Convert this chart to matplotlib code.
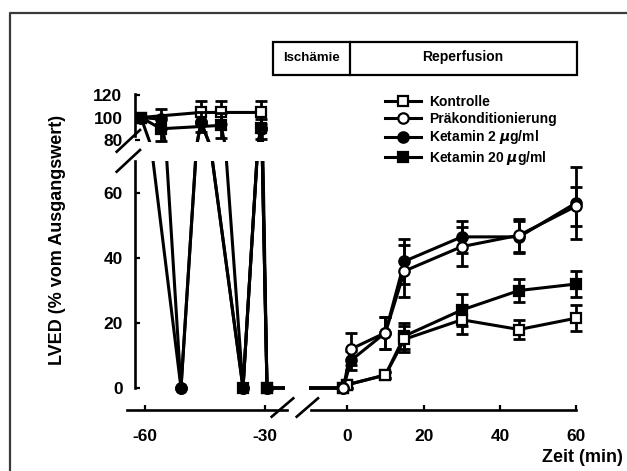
import matplotlib
matplotlib.use("Agg")
import matplotlib.pyplot as plt
from matplotlib.lines import Line2D
from matplotlib.patches import Rectangle

plt.rcParams['font.family'] = ['Liberation Sans', 'DejaVu Sans']
plt.rcParams['font.weight'] = 'bold'
plt.rcParams['axes.unicode_minus'] = False

# Zeitpunkte (min) und LVED-Werte (% vom Ausgangswert) je Gruppe
t_kon = [-61, -46, -41, -31, -29.5, -1, 0, 10, 15, 30, 45, 60]
v_kon = [100, 104.5, 104.5, 104.5, 0, 0, 1, 4, 15, 21, 18, 21.5]
e_kon = [0, 10, 10, 10, 0, 0, 1, 1, 4, 4.5, 3, 4]

t_pra = [-61, -51, -46, -35.5, -31, -29.5, -1, 1, 10, 15, 30, 45, 60]
v_pra = [100, 0, 96, 0, 91, 0, 0, 12, 17, 36, 43.5, 47, 56]
e_pra = [0, 0, 0, 0, 0, 0, 0, 5, 5, 8, 6, 5, 6]

t_k2 = [-61, -56, -51, -46, -35.5, -31, -29.5, -1, 1, 10, 15, 30, 45, 60]
v_k2 = [100, 98.5, 0, 96, 0, 90, 0, 0, 8.5, 17, 39, 46.5, 46.5, 57]
e_k2 = [0, 9, 0, 9, 0, 9, 0, 0, 3, 5, 7, 5, 5, 11]

t_k20 = [-61, -56, -41, -35.5, -31, -29.5, -1, 0, 10, 15, 30, 45, 60]
v_k20 = [100, 90, 93, 0, 91, 0, 0, 1, 4, 16, 24, 30, 32]
e_k20 = [0, 11, 11, 0, 0, 0, 0, 1, 1, 4, 5, 3.5, 4]

labels = ["Kontrolle", "Präkonditionierung", "Ketamin 2 $\\mu$g/ml", "Ketamin 20 $\\mu$g/ml"]

W, H = 627, 471
fig = plt.figure(figsize=(W / 100, H / 100), dpi=100)


def box(l, t, r, b):
    return [l / W, 1 - b / H, (r - l) / W, (b - t) / H]


def fx(x):
    return x / W


def fy(y):
    return 1 - y / H


ax_tl = fig.add_axes(box(135, 92.75, 285, 142.25))
ax_bl = fig.add_axes(box(135, 160.5, 285, 394.5))
ax_br = fig.add_axes(box(309, 160.5, 584, 394.5))

series = [
    ("kon", t_kon, v_kon, e_kon, "s", "white"),
    ("pra", t_pra, v_pra, e_pra, "o", "white"),
    ("k2", t_k2, v_k2, e_k2, "o", "black"),
    ("k20", t_k20, v_k20, e_k20, "s", "black"),
]
z_left = {"kon": 3, "pra": 2, "k2": 5, "k20": 4}
z_right = {"kon": 3, "pra": 5, "k2": 4, "k20": 2}

for ax, zo in [(ax_tl, z_left), (ax_bl, z_left), (ax_br, z_right)]:
    for key, t, v, e, m, fc in series:
        ax.plot(t, v, color="black", lw=2.2, marker=m, markersize=7.5,
                markerfacecolor=fc, markeredgecolor="black", markeredgewidth=1.6,
                zorder=zo[key])
        te = [a for a, b in zip(t, e) if b > 0]
        ve = [a for a, b in zip(v, e) if b > 0]
        ee = [b for b in e if b > 0]
        ax.errorbar(te, ve, yerr=ee, fmt="none", ecolor="black", elinewidth=2,
                    capsize=4.5, capthick=2, zorder=zo[key] - 0.5)

for ax in [ax_tl, ax_bl]:
    ax.set_xlim(-62.5, -25)
ax_br.set_xlim(-10, 62)
ax_tl.set_ylim(78, 122)
ax_bl.set_ylim(-2, 70)
ax_br.set_ylim(-2, 70)

for ax in [ax_tl, ax_bl, ax_br]:
    ax.patch.set_alpha(0)
    for s in ["top", "right"]:
        ax.spines[s].set_visible(False)
    for s in ["left", "bottom"]:
        ax.spines[s].set_linewidth(1.9)
    ax.tick_params(direction="in", length=3.5, width=1.6, labelsize=12.5)

ax_tl.spines["bottom"].set_visible(False)
ax_tl.set_xticks([])
ax_tl.set_yticks([80, 100, 120])
ax_tl.spines["left"].set_bounds(84, 121)
ax_tl.tick_params(axis="y", pad=9)

ax_bl.set_yticks([0, 20, 40, 60])
ax_bl.spines["left"].set_bounds(0, 70)
ax_bl.tick_params(axis="y", pad=9)
ax_bl.set_xticks([-60, -30])
ax_bl.spines["bottom"].set_position(("outward", 11))
ax_bl.spines["bottom"].set_bounds(-64.5, -24.5)
ax_bl.tick_params(axis="x", pad=14)

ax_br.spines["left"].set_visible(False)
ax_br.set_yticks([])
ax_br.set_xticks([0, 20, 40, 60])
ax_br.spines["bottom"].set_position(("outward", 11))
ax_br.spines["bottom"].set_bounds(-9.5, 60)
ax_br.tick_params(axis="x", pad=14)

# Achsenunterbrechungen
for (x0, y0, x1, y1) in [(116.7, 151.7, 140, 130), (116.7, 171.7, 140, 150),
                         (271.7, 416.7, 293.3, 398.3), (296.7, 416.7, 318, 398.3)]:
    fig.add_artist(Line2D([fx(x0), fx(x1)], [fy(y0), fy(y1)], color="black", lw=1.9))

fig.text(fx(57), fy(240), "LVED (% vom Ausgangswert)", rotation=90,
         ha="center", va="center", fontsize=13, fontweight="bold")
fig.text(fx(623), fy(457), "Zeit (min)", ha="right", va="center",
         fontsize=13, fontweight="bold")

# Ischämie / Reperfusion Kasten
fig.add_artist(Rectangle((fx(273), fy(75)), fx(577) - fx(273), fy(41.7) - fy(75),
                         fill=False, lw=1.6, edgecolor="black"))
fig.add_artist(Line2D([fx(350), fx(350)], [fy(41.7), fy(75)], color="black", lw=1.6))
fig.text(fx(311.5), fy(58), "Ischämie", ha="center", va="center", fontsize=9.5,
         fontweight="bold")
fig.text(fx(463), fy(57), "Reperfusion", ha="center", va="center", fontsize=10,
         fontweight="bold")

# Rahmen
fig.add_artist(Line2D([fx(10), fx(10), fx(640)], [fy(480), fy(13), fy(13)],
                      color="#3a3a3a", lw=1.6))

handles = []
for key, t, v, e, m, fc in series:
    handles.append(Line2D([], [], color="black", lw=2.2, marker=m, markersize=7.5,
                          markerfacecolor=fc, markeredgecolor="black",
                          markeredgewidth=1.6))
fig.legend(handles, labels, loc="upper left", bbox_to_anchor=(fx(378), fy(88)),
           frameon=False, handlelength=2.6, handletextpad=0.6,
           labelspacing=0.2, borderpad=0, prop={"weight": "bold", "size": 10})

fig.savefig("out.png", dpi=100)
